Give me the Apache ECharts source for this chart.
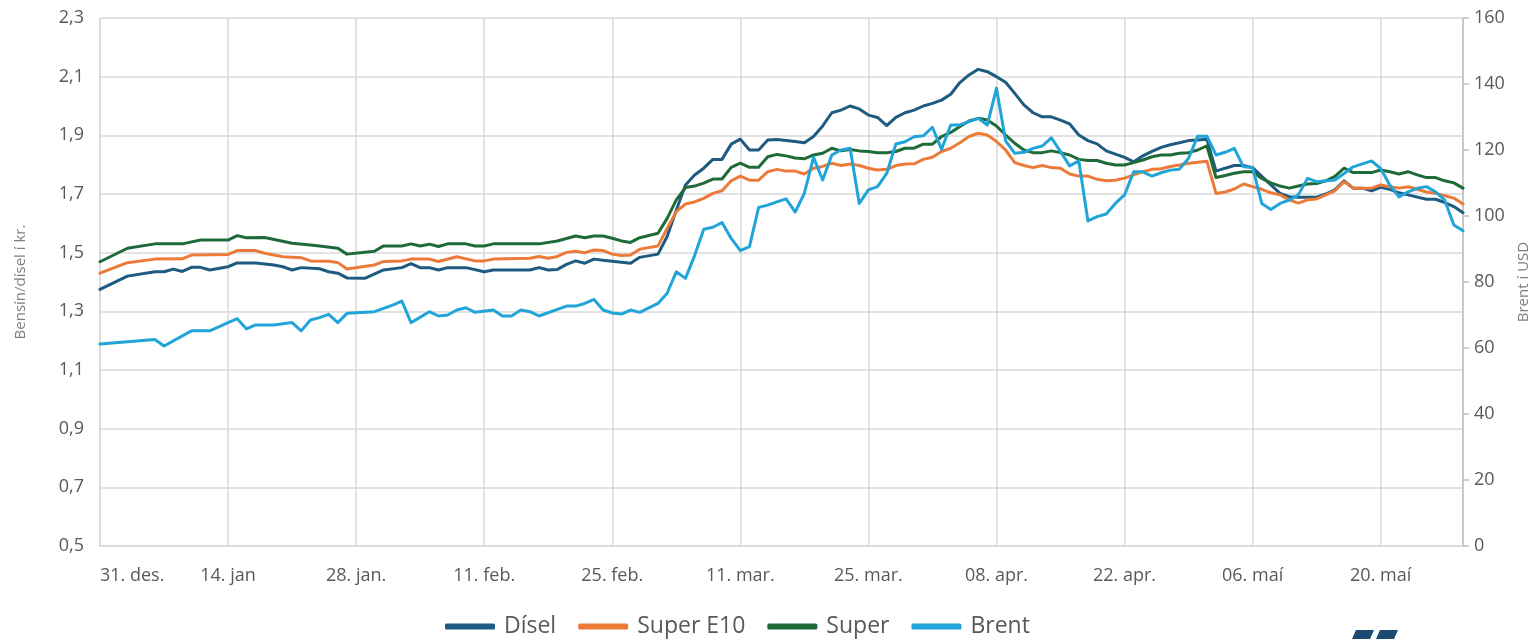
<!DOCTYPE html>
<html>
<head>
<meta charset="utf-8">
<script src="https://cdn.jsdelivr.net/npm/echarts@6/dist/echarts.min.js"></script>
<style>
  html, body { margin: 0; padding: 0; background: #fff; }
  #chart { width: 1532px; height: 639px; }
</style>
</head>
<body>
<div id="chart"></div>
<script>
// days counted from 31. des.; one tick label every 14 days
const tickLabels = ['31. des.', '14. jan', '28. jan.', '11. feb.', '25. feb.', '11. mar.',
  '25. mar.', '08. apr.', '22. apr.', '06. maí', '20. maí'];
const leftTicks = [0.5, 0.7, 0.9, 1.1, 1.3, 1.5, 1.7, 1.9, 2.1, 2.3];

// [day, kr.]
const disel = [[0,1.375],[3,1.42],[6,1.435],[7,1.435],[8,1.444],[9,1.436],[10,1.45],[11,1.45],[12,1.441],[14,1.452],[15,1.465],[17,1.465],[19,1.458],[20,1.452],[21,1.441],[22,1.449],[24,1.445],[25,1.435],[26,1.43],[27,1.414],[29,1.413],[31,1.441],[33,1.449],[34,1.463],[35,1.449],[36,1.449],[37,1.441],[38,1.449],[40,1.449],[42,1.435],[43,1.441],[47,1.441],[48,1.449],[49,1.441],[50,1.443],[51,1.46],[52,1.472],[53,1.464],[54,1.478],[55,1.474],[56,1.471],[58,1.464],[59,1.484],[61,1.495],[62,1.555],[63,1.645],[64,1.731],[65,1.765],[66,1.788],[67,1.818],[68,1.818],[69,1.87],[70,1.887],[71,1.85],[72,1.85],[73,1.884],[74,1.886],[76,1.879],[77,1.875],[78,1.896],[79,1.932],[80,1.977],[81,1.986],[82,2.0],[83,1.99],[84,1.969],[85,1.961],[86,1.933],[87,1.961],[88,1.977],[89,1.986],[90,2.0],[91,2.009],[92,2.02],[93,2.04],[94,2.08],[95,2.106],[96,2.125],[97,2.117],[98,2.1],[99,2.081],[100,2.043],[101,2.004],[102,1.977],[103,1.963],[104,1.963],[105,1.952],[106,1.939],[107,1.901],[108,1.882],[109,1.871],[110,1.847],[111,1.836],[112,1.825],[113,1.81],[114,1.83],[115,1.845],[116,1.859],[117,1.868],[118,1.875],[119,1.882],[120,1.884],[121,1.887],[122,1.778],[123,1.788],[124,1.797],[125,1.797],[126,1.79],[127,1.76],[128,1.731],[129,1.702],[130,1.691],[131,1.689],[133,1.689],[134,1.7],[135,1.714],[136,1.745],[137,1.72],[138,1.72],[139,1.711],[140,1.723],[141,1.716],[142,1.704],[143,1.697],[145,1.682],[146,1.682],[147,1.671],[148,1.657],[149,1.636]];

const superE10 = [[0,1.43],[3,1.466],[6,1.478],[9,1.479],[10,1.492],[14,1.494],[15,1.507],[17,1.507],[18,1.498],[20,1.486],[22,1.483],[23,1.472],[25,1.471],[26,1.466],[27,1.444],[30,1.458],[31,1.47],[33,1.472],[34,1.478],[36,1.478],[37,1.47],[39,1.486],[41,1.472],[42,1.472],[43,1.478],[47,1.481],[48,1.487],[49,1.481],[50,1.487],[51,1.501],[52,1.505],[53,1.5],[54,1.509],[55,1.507],[56,1.495],[57,1.49],[58,1.492],[59,1.512],[61,1.523],[62,1.583],[63,1.64],[64,1.666],[65,1.673],[66,1.685],[67,1.702],[68,1.711],[69,1.745],[70,1.761],[71,1.747],[72,1.747],[73,1.776],[74,1.784],[75,1.778],[76,1.778],[77,1.768],[78,1.788],[79,1.794],[80,1.805],[81,1.797],[82,1.802],[83,1.797],[84,1.788],[85,1.782],[86,1.784],[87,1.797],[88,1.802],[89,1.803],[90,1.818],[91,1.825],[92,1.845],[93,1.856],[94,1.875],[95,1.896],[96,1.907],[97,1.901],[98,1.879],[99,1.85],[100,1.807],[101,1.797],[102,1.79],[103,1.797],[104,1.79],[105,1.788],[106,1.768],[107,1.761],[108,1.761],[109,1.75],[110,1.745],[111,1.747],[112,1.754],[113,1.765],[114,1.776],[115,1.784],[116,1.786],[117,1.794],[118,1.799],[119,1.805],[120,1.808],[121,1.812],[122,1.702],[123,1.707],[124,1.717],[125,1.734],[126,1.725],[127,1.716],[128,1.704],[129,1.697],[130,1.68],[131,1.669],[132,1.68],[133,1.683],[134,1.697],[135,1.711],[136,1.742],[137,1.72],[138,1.72],[139,1.72],[140,1.731],[141,1.725],[142,1.72],[143,1.725],[144,1.716],[145,1.707],[146,1.702],[147,1.694],[148,1.686],[149,1.666]];

const superBensin = [[0,1.469],[3,1.515],[6,1.53],[9,1.53],[11,1.543],[14,1.543],[15,1.558],[16,1.551],[18,1.552],[21,1.532],[23,1.526],[24,1.523],[26,1.515],[27,1.495],[30,1.505],[31,1.523],[33,1.523],[34,1.53],[35,1.523],[36,1.529],[37,1.521],[38,1.53],[40,1.53],[41,1.523],[42,1.523],[43,1.53],[48,1.53],[50,1.54],[52,1.557],[53,1.551],[54,1.557],[55,1.557],[56,1.549],[57,1.54],[58,1.535],[59,1.551],[61,1.566],[62,1.617],[63,1.68],[64,1.722],[65,1.727],[66,1.737],[67,1.751],[68,1.751],[69,1.791],[70,1.805],[71,1.791],[72,1.791],[73,1.827],[74,1.835],[75,1.83],[76,1.823],[77,1.82],[78,1.833],[79,1.839],[80,1.856],[81,1.847],[82,1.852],[83,1.847],[84,1.845],[85,1.841],[86,1.841],[87,1.845],[88,1.856],[89,1.856],[90,1.87],[91,1.87],[92,1.896],[93,1.91],[94,1.93],[95,1.949],[96,1.958],[97,1.952],[98,1.932],[99,1.901],[100,1.873],[101,1.85],[102,1.841],[103,1.841],[104,1.847],[105,1.841],[106,1.833],[107,1.818],[108,1.814],[109,1.814],[110,1.805],[111,1.799],[112,1.799],[113,1.807],[114,1.816],[115,1.827],[116,1.833],[117,1.833],[118,1.839],[119,1.841],[120,1.85],[121,1.864],[122,1.756],[123,1.763],[124,1.771],[125,1.776],[126,1.776],[127,1.753],[128,1.738],[129,1.727],[130,1.72],[131,1.727],[132,1.734],[133,1.736],[134,1.745],[135,1.76],[136,1.788],[137,1.773],[138,1.773],[139,1.773],[140,1.782],[141,1.776],[142,1.768],[143,1.776],[144,1.765],[145,1.756],[146,1.756],[147,1.745],[148,1.738],[149,1.72]];

// [day, USD]
const brent = [[0,61.2],[6,62.6],[7,60.6],[10,65.2],[12,65.2],[14,67.7],[15,68.9],[16,65.8],[17,67],[19,67],[21,67.7],[22,65.2],[23,68.5],[24,69.2],[25,70.2],[26,67.7],[27,70.5],[30,71],[31,72],[32,73],[33,74.2],[34,67.7],[35,69.3],[36,71],[37,69.7],[38,70],[39,71.5],[40,72.2],[41,70.8],[43,71.5],[44,69.7],[45,69.7],[46,71.5],[47,71],[48,69.7],[50,71.7],[51,72.7],[52,72.7],[53,73.5],[54,74.7],[55,71.5],[56,70.6],[57,70.3],[58,71.5],[59,70.8],[61,73.5],[62,76.6],[63,83.1],[64,81.1],[65,88],[66,96],[67,96.6],[68,98],[69,93.2],[70,89.5],[71,90.7],[72,102.6],[73,103.3],[74,104.3],[75,105.2],[76,101.2],[77,106.9],[78,117.8],[79,110.9],[80,118.5],[81,120],[82,120.5],[83,103.8],[84,107.9],[85,108.9],[86,112.9],[87,121.8],[88,122.5],[89,124],[90,124.3],[91,126.9],[92,120.2],[93,127.6],[94,127.6],[95,128.6],[96,129.6],[97,127.6],[98,138.7],[99,122.8],[100,119],[101,119.3],[102,120.5],[103,121.2],[104,123.7],[105,119.5],[106,115.2],[107,116.7],[108,98.5],[109,99.8],[110,100.6],[111,103.8],[112,106.4],[113,113.4],[114,113.4],[115,112.1],[116,113.1],[117,113.9],[118,114.2],[119,117.5],[120,124.2],[121,124.2],[122,118.5],[123,119.3],[124,120.5],[125,114.9],[126,114.7],[127,103.8],[128,102],[129,103.8],[130,104.8],[131,106.4],[132,111.4],[133,110.4],[135,110.9],[136,112.9],[137,114.9],[138,115.8],[139,116.7],[140,114.4],[141,109.4],[142,105.8],[143,107.3],[144,108.4],[145,108.9],[146,107.3],[147,104.8],[148,97.3],[149,95.5]];

const font = '"Open Sans", "Noto Sans", sans-serif';
const gray = '#d9d9d9';
const textGray = '#595959';

const chart = echarts.init(document.getElementById('chart'), null, { renderer: 'canvas' });

const mkSeries = (name, data, color, yAxisIndex) => ({
  name, type: 'line', data, yAxisIndex,
  symbol: 'none', smooth: false,
  lineStyle: { color, width: 3, cap: 'round', join: 'round' },
  itemStyle: { color }
});

chart.setOption({
  animation: false,
  textStyle: { fontFamily: font },
  grid: { left: 100, right: 69, top: 18, bottom: 93, outerBoundsMode: 'none' },
  legend: {
    left: 440, top: 610,
    icon: 'roundRect', itemWidth: 50, itemHeight: 6, itemGap: 22,
    textStyle: { fontSize: 23, color: textGray, fontFamily: font, padding: [0, 0, 0, 4] },
    data: ['Dísel', 'Super E10', 'Super', 'Brent']
  },
  xAxis: {
    type: 'value', min: 0, max: 149, interval: 14,
    axisLine: { show: true, lineStyle: { color: gray, width: 1.5 } },
    axisTick: { show: false },
    splitLine: { show: true, lineStyle: { color: gray, width: 1.5 } },
    axisLabel: {
      fontSize: 18, color: textGray, margin: 21,
      showMaxLabel: false, alignMinLabel: 'left',
      formatter: v => tickLabels[Math.round(v / 14)] || ''
    }
  },
  yAxis: [
    {
      type: 'value', min: 0.5, max: 2.3,
      name: 'Bensín/dísel í kr.', nameLocation: 'middle', nameRotate: 90, nameGap: 72,
      nameTextStyle: { fontSize: 15, color: '#7f7f7f' },
      axisLine: { show: true, lineStyle: { color: gray, width: 1.5 } },
      axisTick: { show: false, customValues: leftTicks },
      splitLine: { show: true, lineStyle: { color: gray, width: 1.5 } },
      axisLabel: {
        fontSize: 18, color: textGray, margin: 16, customValues: leftTicks,
        formatter: v => v.toFixed(1).replace('.', ',')
      }
    },
    {
      type: 'value', min: 0, max: 160, interval: 20, position: 'right',
      name: 'Brent í USD', nameLocation: 'middle', nameRotate: 90, nameGap: 51,
      nameTextStyle: { fontSize: 15, color: '#7f7f7f' },
      axisLine: { show: true, lineStyle: { color: '#bfbfbf', width: 1.5 } },
      axisTick: { show: true, length: 6, lineStyle: { color: '#bfbfbf', width: 1.5 } },
      splitLine: { show: false },
      axisLabel: { fontSize: 18, color: textGray, margin: 11 }
    }
  ],
  series: [
    mkSeries('Dísel', disel, '#1f5a80', 0),
    mkSeries('Super E10', superE10, '#ec7b39', 0),
    mkSeries('Super', superBensin, '#1e6a38', 0),
    mkSeries('Brent', brent, '#21a4d8', 1)
  ],
  graphic: [
    { type: 'polygon', shape: { points: [[1356, 630], [1374, 630], [1370, 639], [1352, 639]] }, style: { fill: '#1d4a73' } },
    { type: 'polygon', shape: { points: [[1380, 630], [1398, 630], [1394, 639], [1376, 639]] }, style: { fill: '#1d4a73' } }
  ]
});
</script>
</body>
</html>
